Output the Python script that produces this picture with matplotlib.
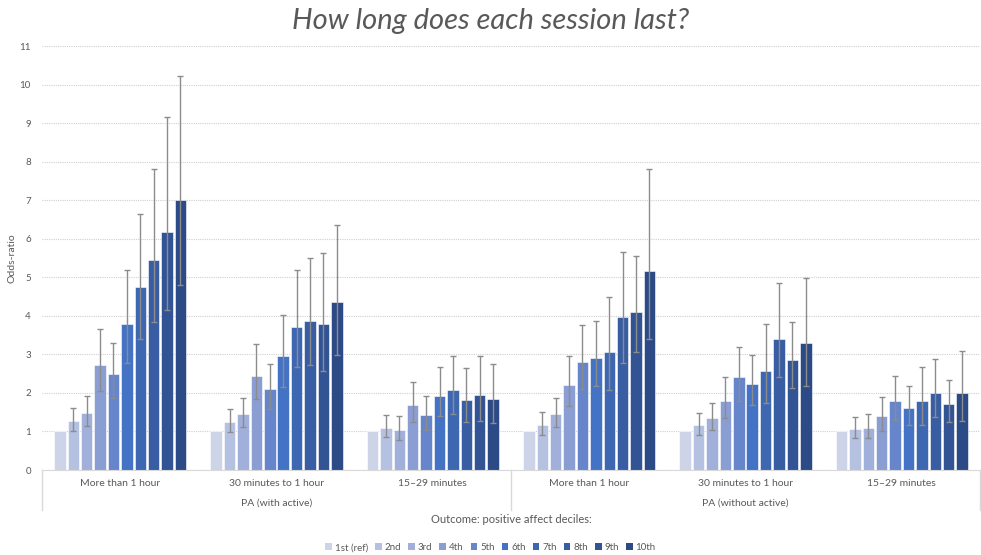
"""
Odds-ratios of positive affect deciles by session length, grouped bars with CIs
"""
import numpy as np
import matplotlib
matplotlib.use('Agg')
import matplotlib.pyplot as plt
import matplotlib.transforms as mtrans
from matplotlib.patches import Patch

''' ==== Data ==== '''
groups = ['More than 1 hour', '30 minutes to 1 hour', '15\u201329 minutes',
          'More than 1 hour', '30 minutes to 1 hour', '15\u201329 minutes']
outer = ['PA (with active)', 'PA (without active)']
deciles = ['1st (ref)', '2nd', '3rd', '4th', '5th', '6th', '7th', '8th', '9th', '10th']

# odds ratio per group (rows) x decile (cols)
odds = [[1.0, 1.26, 1.48, 2.73, 2.49, 3.79, 4.74, 5.45, 6.17, 7.00],
        [1.0, 1.24, 1.44, 2.45, 2.09, 2.95, 3.72, 3.86, 3.80, 4.35],
        [1.0, 1.10, 1.05, 1.68, 1.43, 1.92, 2.08, 1.82, 1.95, 1.84],
        [1.0, 1.18, 1.44, 2.20, 2.81, 2.90, 3.05, 3.97, 4.11, 5.15],
        [1.0, 1.16, 1.35, 1.80, 2.40, 2.23, 2.58, 3.41, 2.86, 3.29],
        [1.0, 1.06, 1.09, 1.39, 1.79, 1.61, 1.78, 1.99, 1.70, 1.99]]
ci_low = [[1.0, 1.00, 1.15, 2.06, 1.88, 2.77, 3.39, 3.84, 4.16, 4.81],
          [1.0, 0.98, 1.11, 1.84, 1.59, 2.16, 2.67, 2.72, 2.58, 2.99],
          [1.0, 0.86, 0.79, 1.24, 1.04, 1.39, 1.46, 1.25, 1.28, 1.23],
          [1.0, 0.92, 1.12, 1.65, 2.10, 2.17, 2.08, 2.78, 3.05, 3.40],
          [1.0, 0.91, 1.05, 1.35, 1.78, 1.68, 1.75, 2.41, 2.12, 2.18],
          [1.0, 0.82, 0.84, 1.02, 1.30, 1.18, 1.18, 1.38, 1.24, 1.28]]
ci_high = [[1.0, 1.61, 1.93, 3.65, 3.29, 5.20, 6.64, 7.80, 9.15, 10.22],
           [1.0, 1.57, 1.86, 3.26, 2.75, 4.03, 5.18, 5.50, 5.63, 6.35],
           [1.0, 1.43, 1.40, 2.28, 1.91, 2.67, 2.96, 2.65, 2.96, 2.74],
           [1.0, 1.51, 1.87, 2.96, 3.77, 3.87, 4.48, 5.65, 5.54, 7.81],
           [1.0, 1.47, 1.75, 2.41, 3.20, 2.98, 3.78, 4.84, 3.85, 4.99],
           [1.0, 1.38, 1.45, 1.90, 2.44, 2.18, 2.66, 2.89, 2.33, 3.10]]

colors = ['#CDD4E8', '#B5C1E0', '#A1B0DA', '#8A9ED3', '#6685CA',
          '#4472C4', '#3E67B2', '#385DA2', '#325394', '#2C4A85']

plt.rcParams['font.family'] = ['Lato', 'DejaVu Sans']
txtc = '#595959'

odds = np.array(odds); lo = np.array(ci_low); hi = np.array(ci_high)
ng, nd = odds.shape
x = np.arange(ng)
step = 0.857 / nd

fig = plt.figure(figsize=(9.81, 5.55), dpi=100)
ax = fig.add_axes([42/981, 85/555, 938/981, 424/555])

for j in range(nd):
    xp = x - 0.857/2 + step*(j+0.5)
    ax.bar(xp, odds[:, j], width=step*0.86, color=colors[j], edgecolor='white',
           linewidth=0.4, zorder=2, label=deciles[j])
    if j > 0:
        ax.errorbar(xp, odds[:, j], yerr=[odds[:, j]-lo[:, j], hi[:, j]-odds[:, j]],
                    fmt='none', ecolor='#8C8C8C', elinewidth=1.0, capsize=2.2,
                    capthick=1.0, zorder=3)

ax.set_xlim(-0.5, ng-0.5)
ax.set_ylim(0, 11)
ax.set_yticks(range(0, 12))
ax.tick_params(axis='y', labelsize=7, colors=txtc, length=0, pad=8)
ax.set_xticks([])
ax.yaxis.grid(True, color='#D0D0D0', linestyle=(0, (1, 1)), linewidth=0.8, zorder=0)
ax.set_axisbelow(True)
for s in ['top', 'right', 'left']:
    ax.spines[s].set_visible(False)
ax.spines['bottom'].set_color('#D9D9D9')
ax.set_ylabel('Odds-ratio', fontsize=7.5, color=txtc, labelpad=2)

# multi-level category axis
tr = mtrans.blended_transform_factory(ax.transData, ax.transAxes)
for i, g in enumerate(groups):
    ax.text(i, -0.031, g, transform=tr, ha='center', va='center', fontsize=7.5, color=txtc)
for k, o in enumerate(outer):
    ax.text(1 + 3*k, -0.078, o, transform=tr, ha='center', va='center', fontsize=7.5, color=txtc)
for xs in [-0.5, 2.5, 5.5]:
    ax.plot([xs, xs], [0, -0.094], transform=tr, color='#D9D9D9', lw=1, clip_on=False)
ax.text(0.5, -0.116, 'Outcome: positive affect deciles:', transform=ax.transAxes,
        ha='center', va='center', fontsize=8, color=txtc)

fig.text(0.5, 0.962, 'How long does each session last?', ha='center', va='center',
         fontsize=21, style='italic', color=txtc)

handles = [Patch(facecolor=c) for c in colors]
fig.legend(handles, deciles, loc='center', bbox_to_anchor=(0.5, 0.013), ncol=10,
           frameon=False, fontsize=7, handlelength=0.7, handleheight=0.7,
           columnspacing=0.7, handletextpad=0.3, labelcolor=txtc)

plt.savefig('out.png', dpi=100)
plt.close()
